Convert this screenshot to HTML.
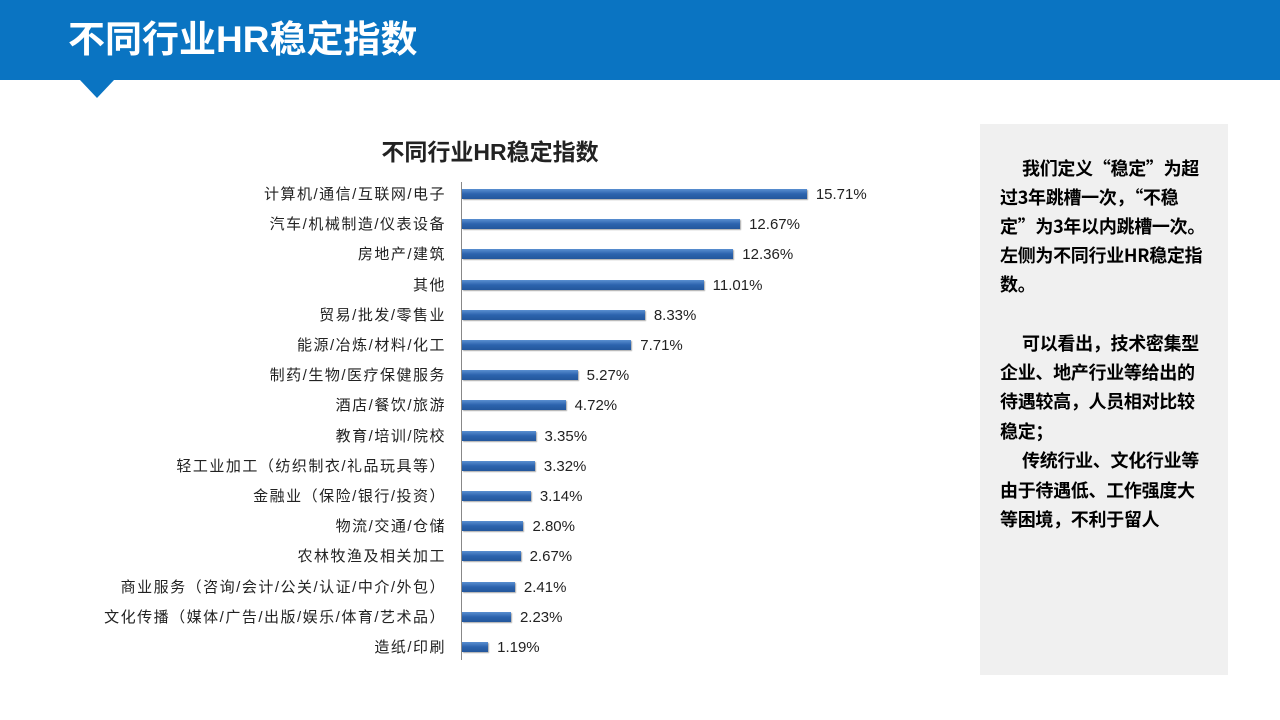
<!DOCTYPE html>
<html><head><meta charset="utf-8"><style>
body{margin:0;width:1280px;height:720px;background:#fff;position:relative;overflow:hidden;font-family:"Liberation Sans","Noto Sans CJK SC",sans-serif}
.hdr{position:absolute;left:0;top:0;width:1280px;height:80px;background:#0a74c2}
.hdr span{position:absolute;left:68px;top:17px;color:#fff;font-size:37px;font-weight:bold;line-height:46px}
.tri{position:absolute;left:80px;top:80px;width:0;height:0;border-left:17px solid transparent;border-right:17px solid transparent;border-top:18px solid #0a74c2}
.ct{position:absolute;left:290px;width:400px;text-align:center;top:133px;font-size:23px;font-weight:bold;color:#222}
.lb{position:absolute;right:834px;font-size:15px;color:#222;white-space:nowrap;line-height:18px;letter-spacing:1.5px}
.bar{position:absolute;left:462px;height:10px;background:linear-gradient(#5a8fd0,#2c63ad 50%,#23579c);box-shadow:1px 1px 1px #aaa}
.v{position:absolute;font-size:15px;color:#222;line-height:18px}
.ax{position:absolute;left:461px;top:182px;width:1px;height:478px;background:#888}
.panel{position:absolute;left:980px;top:124px;width:248px;height:551px;background:#f0f0f0}
.t{position:absolute;left:1000px;font-size:18px;font-weight:bold;color:#000;white-space:nowrap;line-height:22px;font-family:"Noto Sans CJK SC","Liberation Sans",sans-serif;letter-spacing:-0.3px}
</style></head><body>
<div class="hdr"><span>不同行业HR稳定指数</span></div>
<div class="tri"></div>
<div class="ct">不同行业HR稳定指数</div>
<div class="ax"></div>
<div id="c"></div>
<div class="panel"></div>
<div class="t" style="top:157px;left:1022px">我们定义“稳定”为超</div>
<div class="t" style="top:186px">过3年跳槽一次，“不稳</div>
<div class="t" style="top:215px">定”为3年以内跳槽一次。</div>
<div class="t" style="top:244px">左侧为不同行业HR稳定指</div>
<div class="t" style="top:273px">数。</div>
<div class="t" style="top:332px;left:1022px">可以看出，技术密集型</div>
<div class="t" style="top:361px">企业、地产行业等给出的</div>
<div class="t" style="top:390px">待遇较高，人员相对比较</div>
<div class="t" style="top:420px">稳定；</div>
<div class="t" style="top:449px;left:1022px">传统行业、文化行业等</div>
<div class="t" style="top:479px">由于待遇低、工作强度大</div>
<div class="t" style="top:508px">等困境，不利于留人</div>
<script>
var d=[["计算机/通信/互联网/电子",15.71],["汽车/机械制造/仪表设备",12.67],["房地产/建筑",12.36],["其他",11.01],["贸易/批发/零售业",8.33],["能源/冶炼/材料/化工",7.71],["制药/生物/医疗保健服务",5.27],["酒店/餐饮/旅游",4.72],["教育/培训/院校",3.35],["轻工业加工（纺织制衣/礼品玩具等）",3.32],["金融业（保险/银行/投资）",3.14],["物流/交通/仓储",2.80],["农林牧渔及相关加工",2.67],["商业服务（咨询/会计/公关/认证/中介/外包）",2.41],["文化传播（媒体/广告/出版/娱乐/体育/艺术品）",2.23],["造纸/印刷",1.19]];
var h="";d.forEach(function(r,i){var y=194+i*30.2;var w=r[1]*21.95;
h+='<div class="lb" style="top:'+(y-8)+'px">'+r[0]+'</div><div class="bar" style="top:'+(y-5)+'px;width:'+w+'px"></div><div class="v" style="top:'+(y-8)+'px;left:'+(462+w+9)+'px">'+r[1].toFixed(2)+'%</div>';});
document.getElementById("c").innerHTML=h;
</script>
</body></html>
